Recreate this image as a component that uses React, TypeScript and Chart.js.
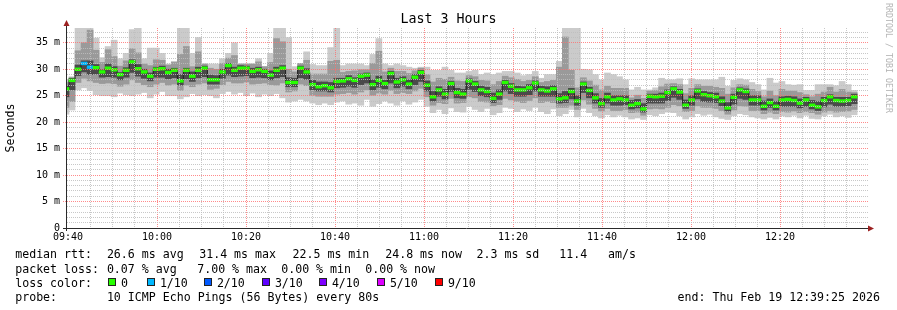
import React, { useEffect, useRef } from 'react';
import { Chart, registerables } from 'chart.js';

Chart.register(...registerables);

// ---------------- data ----------------
const chartTitle = 'Last 3 Hours';
const yAxisTitle = 'Seconds';
const xTickLabels = ['09:40', '10:00', '10:20', '10:40', '11:00', '11:20', '11:40', '12:00', '12:20'];
const yTickLabels = ['0', '5 m', '10 m', '15 m', '20 m', '25 m', '30 m', '35 m'];

// time axis: minutes after 09:40 (window about 09:39:46 .. 12:39:46), one value every step
const axisStartMinute = -0.225;
const axisEndMinute = 179.775;
const gridStepMinutes = 5;
const labelStepMinutes = 20;
const stepMinutes = 1.352;
const firstStepMinute = -0.45;

// median RTT per step (ms)
const medianRtt = [26.3,
  27.9, 30.0, 31.1, 30.4, 30.3, 29.5, 30.2, 29.9, 29.0, 29.8,
  31.4, 30.1, 29.5, 28.7, 30.0, 30.1, 29.4, 29.8, 27.8, 29.8,
  28.7, 29.8, 30.2, 28.0, 28.0, 29.5, 30.7, 29.8, 30.2, 30.2,
  29.6, 29.9, 29.6, 28.9, 29.8, 30.2, 27.5, 27.5, 30.2, 29.5,
  27.1, 26.7, 26.9, 26.5, 27.7, 27.8, 28.2, 27.9, 28.7, 28.9,
  27.1, 27.9, 27.3, 29.2, 27.6, 28.0, 27.2, 28.5, 29.4, 27.0,
  24.8, 26.1, 25.3, 27.3, 25.6, 25.3, 27.8, 27.2, 26.1, 25.8,
  24.5, 25.3, 27.5, 26.8, 26.1, 26.1, 26.5, 27.4, 26.1, 25.9,
  26.3, 24.4, 24.6, 25.8, 24.0, 27.2, 26.0, 24.6, 23.5, 24.8,
  24.2, 24.4, 24.2, 23.2, 23.5, 22.5, 24.9, 24.8, 24.9, 25.6,
  26.3, 25.7, 23.2, 24.2, 25.9, 25.2, 25.0, 24.8, 24.0, 22.7,
  24.7, 26.1, 25.8, 24.2, 24.2, 23.0, 23.7, 23.0, 24.2, 24.3,
  24.1, 23.6, 24.2, 23.2, 22.9, 24.1, 24.8, 24.1, 24.0, 24.1, 24.8];

// slowest ping per step (ms)
const maxRtt = [28.0,
  28.6, 37.9, 37.9, 37.9, 35.9, 32.2, 34.3, 35.5, 32.0, 33.0,
  37.5, 37.9, 32.0, 34.0, 34.0, 33.0, 31.0, 31.5, 37.9, 37.9,
  33.0, 36.0, 31.0, 31.0, 31.0, 32.0, 33.0, 35.0, 31.0, 31.0,
  31.0, 32.0, 30.5, 33.0, 37.9, 37.9, 36.0, 30.5, 31.1, 33.3,
  30.9, 30.7, 30.7, 34.1, 37.9, 30.7, 31.0, 31.0, 31.0, 30.7,
  32.8, 35.8, 31.0, 30.7, 31.0, 30.7, 30.4, 30.2, 30.4, 30.4,
  29.8, 29.8, 30.4, 29.8, 29.3, 29.3, 29.6, 29.8, 29.0, 29.3,
  29.0, 29.3, 29.6, 29.6, 29.3, 28.8, 29.0, 29.6, 28.3, 29.0,
  29.0, 31.5, 37.9, 37.9, 37.9, 30.0, 29.9, 29.0, 28.0, 29.3,
  29.0, 28.6, 28.0, 26.1, 26.6, 26.1, 26.1, 26.5, 28.3, 28.0,
  28.0, 28.2, 27.1, 28.2, 28.0, 28.0, 28.0, 28.0, 28.5, 26.8,
  27.9, 28.2, 28.0, 27.5, 27.1, 26.1, 28.3, 27.4, 27.7, 27.1,
  27.0, 27.1, 26.0, 26.0, 27.1, 27.1, 27.1, 26.9, 27.7, 27.1, 26.0];

// fastest ping per step (ms)
const minRtt = [21.5, 22.3,
  26.1, 26.5, 26.0, 25.2, 25.0, 25.0, 24.8, 25.5, 25.2, 25.0, 25.3, 25.6, 24.6, 25.3, 25.8, 25.0, 25.0, 24.4,
  24.8, 25.4, 25.0, 25.2, 25.0, 24.6, 25.4, 25.8, 25.3, 25.6, 25.0, 25.5, 24.8, 25.3, 25.0, 25.4, 24.6, 23.8, 24.0,
  24.3, 24.0, 23.6, 23.3, 23.6, 23.3, 23.8, 24.0, 23.4, 23.6, 23.2, 24.3, 23.0, 23.5, 24.0, 23.6, 23.2, 24.0, 23.4,
  23.8, 24.3, 23.0,
  21.8, 22.4, 21.6, 22.7, 22.0, 21.9, 23.0, 22.4, 22.0, 22.6, 21.4, 21.8, 22.8, 22.6, 22.0, 22.5, 22.2, 22.8, 22.0,
  21.6, 22.5, 21.2, 21.6, 22.4, 21.0, 22.6,
  21.8, 21.2, 20.8, 21.4, 21.0, 21.3, 21.0, 20.6, 20.8, 20.5, 21.4, 21.2, 21.6, 21.9, 21.8, 21.2, 20.6, 21.0, 21.6,
  21.3, 21.5, 21.0, 20.7, 20.5, 21.2, 21.6, 21.4, 21.0, 20.8, 20.6, 20.9, 20.6, 21.2, 21.0, 21.3, 20.8, 21.3, 20.7,
  20.6, 21.2, 21.5, 21.0, 21.2, 20.9, 21.4];

// middle smoke band: distance above / below the median (ms)
const midUp = [1.2,
  0.5, 3.5, 3.9, 7.0, 3.3, 1.8, 3.5, 2.5, 1.6, 1.8,
  2.5, 3.0, 1.5, 2.0, 1.8, 1.6, 1.4, 1.5, 5.0, 4.5,
  1.8, 3.5, 1.2, 2.2, 2.0, 1.6, 1.4, 2.8, 1.2, 1.3,
  1.6, 1.5, 1.2, 2.4, 6.0, 5.0, 2.5, 2.0, 1.2, 2.2,
  2.0, 2.4, 2.2, 5.0, 4.0, 1.6, 1.4, 1.8, 1.2, 1.0,
  4.0, 5.5, 2.2, 1.0, 2.0, 1.6, 2.0, 1.2, 0.8, 2.0,
  2.8, 2.2, 2.8, 1.2, 2.2, 2.4, 1.0, 1.4, 1.8, 2.0,
  2.6, 2.4, 1.2, 1.6, 2.0, 1.6, 1.4, 1.2, 1.4, 1.8,
  1.6, 6.0, 11.5, 4.0, 2.5, 1.2, 1.8, 2.4, 2.6, 2.0,
  2.2, 2.0, 2.2, 1.4, 1.6, 2.0, 1.0, 1.2, 1.8, 1.6,
  1.0, 1.4, 2.2, 2.2, 1.2, 1.6, 1.8, 1.8, 2.4, 2.6,
  1.8, 1.0, 1.2, 2.0, 1.6, 1.8, 2.2, 2.0, 2.0, 1.6,
  1.8, 2.0, 1.0, 1.6, 2.4, 1.6, 1.8, 1.6, 2.2, 1.6, 0.8];
const midDown = [3.5,
  4.0, 2.5, 2.8, 2.6, 2.8, 2.2, 2.8, 2.6, 2.2, 2.6,
  3.4, 2.6, 2.4, 2.0, 2.8, 2.6, 2.4, 2.6, 1.8, 2.8,
  2.0, 2.6, 2.8, 1.8, 1.6, 2.4, 3.0, 2.4, 2.8, 2.6,
  2.4, 2.6, 2.2, 1.8, 2.8, 2.8, 1.8, 1.6, 3.0, 2.6,
  2.0, 1.8, 2.0, 1.6, 2.4, 2.4, 2.6, 2.6, 3.0, 2.8,
  2.0, 2.4, 2.0, 3.2, 2.2, 2.4, 1.8, 2.6, 3.0, 2.2,
  1.6, 2.4, 1.8, 2.8, 2.0, 1.6, 3.0, 2.6, 2.2, 2.0,
  1.4, 2.0, 3.0, 2.6, 2.2, 2.4, 2.4, 2.8, 2.4, 2.0,
  2.6, 1.6, 1.8, 2.6, 1.6, 3.0, 2.6, 2.0, 1.4, 2.2,
  2.0, 2.2, 1.8, 1.4, 1.6, 1.2, 2.4, 2.2, 2.4, 2.8,
  3.0, 2.6, 1.2, 2.0, 2.8, 2.4, 2.2, 2.2, 1.8, 1.2,
  2.4, 3.0, 2.8, 2.0, 2.0, 1.4, 1.8, 1.4, 2.2, 2.4,
  2.0, 1.8, 2.2, 1.4, 1.4, 2.2, 2.6, 2.2, 2.0, 2.0, 2.4];

// dark core band: distance above / below the median (ms)
const coreUp = [0.6,
  0.4, 0.8, 0.5, 1.2, 0.6, 0.4, 0.8, 0.6, 0.4, 0.5,
  0.4, 0.8, 0.5, 0.6, 0.4, 0.5, 0.6, 0.4, 1.2, 0.4,
  0.8, 0.6, 0.4, 0.9, 0.8, 0.5, 0.4, 0.6, 0.5, 0.4,
  0.6, 0.5, 0.4, 0.8, 0.6, 0.5, 0.9, 0.8, 0.4, 0.6,
  0.8, 0.9, 0.7, 1.0, 0.6, 0.5, 0.6, 0.5, 0.4, 0.4,
  0.9, 0.8, 0.6, 0.4, 0.7, 0.6, 0.8, 0.5, 0.4, 0.8,
  1.0, 0.6, 0.9, 0.4, 0.8, 0.9, 0.4, 0.5, 0.7, 0.8,
  1.0, 0.8, 0.4, 0.5, 0.7, 0.6, 0.6, 0.4, 0.7, 0.8,
  0.6, 1.0, 1.2, 0.6, 1.0, 0.4, 0.6, 0.8, 1.0, 0.7,
  0.8, 0.6, 0.8, 0.9, 0.8, 1.0, 0.4, 0.5, 0.6, 0.5,
  0.4, 0.5, 1.0, 0.8, 0.4, 0.6, 0.6, 0.7, 0.8, 1.0,
  0.6, 0.4, 0.5, 0.8, 0.8, 1.0, 0.7, 0.9, 0.6, 0.6,
  0.7, 0.8, 0.5, 0.9, 1.0, 0.6, 0.4, 0.6, 0.7, 0.6, 0.5];
const coreDown = [1.5,
  1.8, 1.2, 1.6, 1.4, 1.2, 1.0, 1.6, 1.4, 1.0, 1.3,
  2.0, 1.4, 1.2, 0.9, 1.5, 1.6, 1.2, 1.4, 0.8, 1.6,
  1.0, 1.4, 1.6, 0.8, 0.8, 1.2, 1.8, 1.2, 1.5, 1.4,
  1.2, 1.4, 1.2, 0.9, 1.4, 1.6, 0.8, 0.8, 1.8, 1.4,
  1.0, 0.8, 1.0, 0.8, 1.2, 1.2, 1.4, 1.3, 1.6, 1.5,
  1.0, 1.3, 1.0, 1.8, 1.1, 1.2, 0.9, 1.4, 1.7, 1.1,
  0.8, 1.2, 0.9, 1.5, 1.0, 0.8, 1.6, 1.4, 1.1, 1.0,
  0.8, 1.0, 1.6, 1.4, 1.2, 1.2, 1.3, 1.5, 1.2, 1.0,
  1.4, 0.8, 0.9, 1.4, 0.8, 1.6, 1.4, 1.0, 0.7, 1.2,
  1.0, 1.2, 0.9, 0.7, 0.8, 0.6, 1.3, 1.2, 1.3, 1.5,
  1.6, 1.4, 0.6, 1.0, 1.5, 1.3, 1.2, 1.1, 0.9, 0.6,
  1.3, 1.6, 1.5, 1.0, 1.0, 0.7, 0.9, 0.7, 1.2, 1.3,
  1.1, 0.9, 1.2, 0.7, 0.7, 1.2, 1.4, 1.1, 1.0, 1.0, 1.3];

// steps with packet loss (index into medianRtt) and their loss level
const lossyStepIndex = [3, 4];
const lossyStepLevel = [1, 1];

const lossLabels = ['0', '1/10', '2/10', '3/10', '4/10', '5/10', '9/10'];
const lossColors = ['#26ff00', '#00b8ff', '#0059ff', '#5e00ff', '#7e00ff', '#dd00ff', '#ff0000'];

const medianRttLegend = ['median rtt:', '26.6 ms avg', '31.4 ms max', '22.5 ms min', '24.8 ms now', '2.3 ms sd', '11.4   am/s'];
const packetLossLegend = ['packet loss:', '0.07 % avg', '7.00 % max', '0.00 % min', '0.00 % now'];
const probeLegend = ['probe:', '10 ICMP Echo Pings (56 Bytes) every 80s'];
const endLegend = 'end: Thu Feb 19 12:39:25 2026';
const watermark = 'RRDTOOL / TOBI OETIKER';

// ---------------- styling ----------------
const MONO = "'DejaVu Sans Mono', monospace";
const MINOR_GRID = 'rgba(190,190,190,0.85)';
const MAJOR_GRID = 'rgba(255,110,110,0.8)';
const MEDIAN_HALF = 0.26;

const isWhole = (v: number) => Math.abs(v - Math.round(v)) < 1e-6;

// dotted rrdtool-style grid, placed from the chart's own ticks
const gridPlugin = {
  id: 'rrdGrid',
  afterDatasetsDraw(chart: any) {
    const { ctx, chartArea: a, scales } = chart;
    const top = Math.round(a.top);
    const bottom = Math.round(a.bottom);
    const left = Math.round(a.left);
    const right = Math.round(a.right);
    ctx.save();
    for (const t of scales.x.ticks) {
      const m = Math.round(t.value);
      if (m <= 0) continue;
      const px = Math.floor(scales.x.getPixelForValue(t.value) + 1e-6);
      ctx.fillStyle = m % labelStepMinutes === 0 ? MAJOR_GRID : MINOR_GRID;
      for (let y = top; y < bottom; y += 2) ctx.fillRect(px, y, 1, 1);
    }
    for (const t of scales.y.ticks) {
      if (!isWhole(t.value)) continue;
      const n = Math.round(t.value);
      if (n <= 0) continue;
      const py = Math.floor(scales.y.getPixelForValue(t.value) + 1e-6);
      const major = n % 5 === 0;
      ctx.fillStyle = major ? MAJOR_GRID : MINOR_GRID;
      for (let x = major ? left - 4 : left; x < right; x += 2) ctx.fillRect(x, py, 1, 1);
    }
    ctx.restore();
  },
};

const axisPlugin = {
  id: 'rrdAxes',
  afterDraw(chart: any) {
    const { ctx, chartArea: a } = chart;
    ctx.save();
    ctx.strokeStyle = '#2a2a2a';
    ctx.lineWidth = 1;
    ctx.beginPath();
    ctx.moveTo(a.left - 0.5, a.bottom + 3);
    ctx.lineTo(a.left - 0.5, a.top - 3);
    ctx.moveTo(a.left - 4, a.bottom + 0.5);
    ctx.lineTo(a.right + 2, a.bottom + 0.5);
    ctx.stroke();
    ctx.fillStyle = '#9c2121';
    ctx.beginPath();
    ctx.moveTo(a.left - 0.5, a.top - 8);
    ctx.lineTo(a.left - 3.5, a.top - 2);
    ctx.lineTo(a.left + 2.5, a.top - 2);
    ctx.closePath();
    ctx.fill();
    ctx.beginPath();
    ctx.moveTo(a.right + 6, a.bottom + 0.5);
    ctx.lineTo(a.right, a.bottom - 2.5);
    ctx.lineTo(a.right, a.bottom + 3.5);
    ctx.closePath();
    ctx.fill();
    ctx.restore();
  },
};

function buildConfig(): any {
  const times = medianRtt.map((_, i) => firstStepMinute + i * stepMinutes);
  const floating = (lo: (i: number) => number, hi: (i: number) => number) =>
    times.map((x, i) => ({ x, y: [lo(i), hi(i)] }));

  const lightBand = floating((i) => minRtt[i], (i) => maxRtt[i]);
  const midBand = floating(
    (i) => Math.max(minRtt[i], medianRtt[i] - midDown[i]),
    (i) => Math.min(maxRtt[i], medianRtt[i] + midUp[i])
  );
  const coreBand = floating((i) => medianRtt[i] - coreDown[i], (i) => medianRtt[i] + coreUp[i]);
  const medianMarks = floating((i) => medianRtt[i] - MEDIAN_HALF, (i) => medianRtt[i] + MEDIAN_HALF);
  const medianColors = medianRtt.map((_, i) => {
    const k = lossyStepIndex.indexOf(i);
    return lossColors[k < 0 ? 0 : lossyStepLevel[k]];
  });
  const medianLine = times.map((x, i) => ({ x, y: medianRtt[i] }));

  return {
    type: 'bar',
    data: {
      datasets: [
        { type: 'bar', label: 'rtt range', data: lightBand, backgroundColor: '#cbcbcb', order: 5 },
        { type: 'bar', label: 'rtt middle', data: midBand, backgroundColor: '#9a9a9a', order: 4 },
        { type: 'bar', label: 'rtt core', data: coreBand, backgroundColor: '#4a4a4a', order: 3 },
        {
          type: 'line', label: 'median', data: medianLine, borderColor: '#202020', borderWidth: 1,
          pointRadius: 0, stepped: 'middle', order: 2, clip: 0,
        },
        { type: 'bar', label: 'median rtt', data: medianMarks, backgroundColor: medianColors, order: 1 },
      ],
    },
    options: {
      responsive: false,
      animation: false,
      devicePixelRatio: 1,
      layout: { padding: { left: 0, right: 0, top: 0, bottom: 0 } },
      datasets: {
        bar: { grouped: false, categoryPercentage: 1, barPercentage: 1, borderWidth: 0, clip: 0 },
      },
      plugins: {
        legend: { display: false },
        tooltip: { enabled: false },
        title: {
          display: true,
          text: chartTitle,
          color: '#000',
          font: { family: MONO, size: 13.3, weight: 'normal', lineHeight: 1.2 },
          padding: { top: 12, bottom: 0.04 },
        },
      },
      scales: {
        x: {
          type: 'linear',
          min: axisStartMinute,
          max: axisEndMinute,
          offset: false,
          afterFit: (s: any) => { s.height = 82; },
          afterBuildTicks: (s: any) => {
            const ticks: { value: number }[] = [];
            for (let m = 0; m <= axisEndMinute; m += gridStepMinutes) ticks.push({ value: m });
            s.ticks = ticks;
          },
          ticks: {
            autoSkip: false,
            maxRotation: 0,
            minRotation: 0,
            padding: 3.5,
            color: '#000',
            font: { family: MONO, size: 10 },
            callback: (v: any) => {
              const m = Math.round(Number(v));
              return m % labelStepMinutes === 0 ? xTickLabels[m / labelStepMinutes] : '';
            },
          },
          grid: { display: false, offset: false, drawTicks: false },
          border: { display: false },
        },
        y: {
          type: 'linear',
          min: 0,
          max: 37.8,
          afterFit: (s: any) => { s.width = 67; },
          title: {
            display: true,
            text: yAxisTitle,
            color: '#000',
            font: { family: MONO, size: 11.6, lineHeight: 1.2 },
            padding: { top: 4, bottom: 0 },
          },
          ticks: {
            stepSize: 1,
            autoSkip: false,
            includeBounds: false,
            padding: 7,
            color: '#000',
            font: { family: MONO, size: 10 },
            callback: (v: any) => {
              const n = Math.round(Number(v));
              return n % 5 === 0 ? yTickLabels[n / 5] : '';
            },
          },
          grid: { display: false, drawTicks: false },
          border: { display: false },
        },
        yPad: {
          type: 'linear',
          position: 'right',
          min: 0,
          max: 1,
          afterFit: (s: any) => { s.width = 29; },
          ticks: { display: false },
          grid: { display: false, drawTicks: false },
          border: { display: false },
        },
      },
    },
    plugins: [gridPlugin, axisPlugin],
  };
}

const textBase: React.CSSProperties = {
  position: 'absolute',
  fontFamily: MONO,
  fontSize: '11.6px',
  lineHeight: '14px',
  whiteSpace: 'pre',
  color: '#000',
  margin: 0,
};

const line1X = [16, 107.7, 200, 293.3, 386, 477.3, 560];
const line2X = [16, 107.7, 198, 282, 366];
const line4X = [16, 107.7];
const lossBoxX = [108, 147, 204, 262, 319, 377, 435];

export default function App() {
  const ref = useRef<HTMLCanvasElement>(null);
  useEffect(() => {
    const chart = new Chart(ref.current as HTMLCanvasElement, buildConfig());
    return () => chart.destroy();
  }, []);

  const seg = (t: string, x: number, top: number, key: string) => (
    <div key={key} style={{ ...textBase, left: x - 0.8, top }}>{t}</div>
  );

  return (
    <div style={{ position: 'absolute', left: 0, top: 0, width: 897, height: 310, background: '#fff', overflow: 'hidden' }}>
      <canvas ref={ref} width={897} height={310} style={{ position: 'absolute', left: 0, top: 0 }} />
      {medianRttLegend.map((t, i) => seg(t, line1X[i], 247.3, 'm' + i))}
      {packetLossLegend.map((t, i) => seg(t, line2X[i], 261.6, 'p' + i))}
      {seg('loss color:', 16, 275.9, 'lc')}
      {lossLabels.map((t, i) => (
        <React.Fragment key={'l' + i}>
          <div style={{ position: 'absolute', left: lossBoxX[i], top: 278, width: 6, height: 6, border: '1px solid #222', background: lossColors[i] }} />
          {seg(t, lossBoxX[i] + 13.7, 275.9, 'lt' + i)}
        </React.Fragment>
      ))}
      {probeLegend.map((t, i) => seg(t, line4X[i], 290, 'r' + i))}
      {seg(endLegend, 678.3, 290, 'end')}
      <div
        style={{
          position: 'absolute', left: 888.5 - 56, top: 58 - 5, width: 112, height: 10,
          fontFamily: MONO, fontSize: '8.3px', lineHeight: '10px', whiteSpace: 'pre', color: '#b4b4b4',
          textAlign: 'center', transform: 'rotate(90deg)', transformOrigin: '50% 50%',
        }}
      >
        {watermark}
      </div>
    </div>
  );
}
